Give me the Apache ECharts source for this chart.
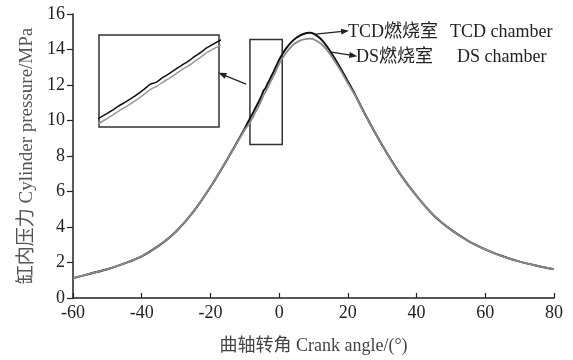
<!DOCTYPE html>
<html>
<head>
<meta charset="utf-8">
<script src="https://cdn.jsdelivr.net/npm/echarts@6/dist/echarts.min.js"></script>
<style>
  html, body { margin: 0; padding: 0; background: #fff; }
  #chart { width: 573px; height: 360px; }
</style>
</head>
<body>
<div id="chart"></div>
<script>
// crank angle (deg), denser where the inset zooms in
const angles = [-60, -55, -50, -45, -40, -35, -30, -25, -20, -15, -10,
  -8.5, -8, -7.5, -7, -6.5, -6, -5.5, -5, -4.5, -4, -3.5, -3, -2.5, -2, -1.5, -1, -0.5, 0,
  2, 4, 6, 8, 9, 10, 12, 14, 16, 18, 20, 22, 25,
  30, 35, 40, 45, 50, 55, 60, 65, 70, 75, 80];

// TCD chamber pressure (MPa)
const tcdPressure = [1.12, 1.37, 1.62, 1.95, 2.35, 2.95, 3.75, 4.85, 6.25, 7.85, 9.55,
  10.12, 10.3, 10.47, 10.67, 10.85, 11.03, 11.23, 11.45, 11.7, 11.8, 12.02, 12.2, 12.4, 12.6, 12.78, 13.0, 13.2, 13.42,
  14.05, 14.5, 14.78, 14.93, 14.95, 14.9, 14.62, 14.15, 13.55, 12.9, 12.2, 11.5, 10.35,
  8.6, 7.05, 5.75, 4.65, 3.85, 3.22, 2.74, 2.35, 2.05, 1.82, 1.62];

// DS chamber pressure (MPa)
const dsPressure = [1.12, 1.37, 1.62, 1.95, 2.35, 2.95, 3.75, 4.85, 6.25, 7.85, 9.48,
  9.88, 10.06, 10.24, 10.44, 10.61, 10.8, 11.0, 11.22, 11.45, 11.6, 11.8, 11.98, 12.18, 12.38, 12.56, 12.77, 12.98, 13.2,
  13.8, 14.25, 14.5, 14.6, 14.61, 14.58, 14.35, 13.95, 13.4, 12.78, 12.1, 11.45, 10.33,
  8.6, 7.05, 5.75, 4.65, 3.85, 3.22, 2.74, 2.35, 2.05, 1.82, 1.62];

const xTicks = [-60, -40, -20, 0, 20, 40, 60, 80];
const yTicks = [0, 2, 4, 6, 8, 10, 12, 14, 16];

// zoomed window marked on the main plot
const zoomBox = [[-8.5, 8.65], [0.9, 14.57]];

const serif = "'Liberation Serif', 'Noto Sans CJK SC', serif";

const tcdData = angles.map((a, i) => [a, tcdPressure[i]]);
const dsData = angles.map((a, i) => [a, dsPressure[i]]);

const chart = echarts.init(document.getElementById('chart'), null, { renderer: 'canvas' });

const arrowLine = (from, to) => ({
  type: 'line',
  silent: true,
  xAxisIndex: 0,
  yAxisIndex: 0,
  data: [],
  markLine: {
    silent: true,
    symbol: ['none', 'triangle'],
    symbolSize: [6, 8],
    lineStyle: { color: '#222', width: 1.2, type: 'solid' },
    label: { show: false },
    data: [[{ coord: from }, { coord: to }]]
  }
});

const option = {
  animation: false,
  backgroundColor: '#fff',
  grid: [
    { left: 73, right: 19, top: 14, bottom: 54 },
    { left: 99, top: 35, width: 120, height: 92, show: true, borderColor: '#333', borderWidth: 1.5, backgroundColor: '#fff', z: 5 }
  ],
  xAxis: [
    {
      type: 'value', gridIndex: 0, min: -60, max: 80, interval: 20,
      axisLine: { onZero: false, lineStyle: { color: '#222', width: 1.5 } },
      axisTick: { inside: true, length: 5, lineStyle: { color: '#222', width: 1.2 } },
      splitLine: { show: false },
      axisLabel: {
        color: '#222', fontFamily: serif, fontSize: 18, margin: 6,
        formatter: v => xTicks.includes(v) ? String(v) : ''
      },
      name: '曲轴转角 Crank angle/(°)',
      nameLocation: 'middle', nameGap: 39,
      nameTextStyle: { color: '#444', fontFamily: serif, fontSize: 18 }
    },
    { type: 'value', gridIndex: 1, min: -8.5, max: 0.9, show: false }
  ],
  yAxis: [
    {
      type: 'value', gridIndex: 0, min: 0, max: 16, interval: 2,
      axisLine: { show: true, onZero: false, lineStyle: { color: '#222', width: 1.5 } },
      axisTick: { show: true, inside: false, length: 6, lineStyle: { color: '#222', width: 1.2 } },
      splitLine: { show: false },
      axisLabel: {
        color: '#222', fontFamily: serif, fontSize: 18, margin: 8,
        formatter: v => yTicks.includes(v) ? String(v) : ''
      },
      name: '缸内压力 Cylinder pressure/MPa',
      nameLocation: 'middle', nameGap: 33,
      nameTextStyle: { color: '#555', fontFamily: serif, fontSize: 19 }
    },
    { type: 'value', gridIndex: 1, min: 9.71, max: 14.0, show: false }
  ],
  series: [
    {
      name: 'TCD chamber', type: 'line', xAxisIndex: 0, yAxisIndex: 0,
      data: tcdData, smooth: 0.3, showSymbol: false,
      lineStyle: { color: '#111', width: 2 },
      markArea: {
        silent: true,
        itemStyle: { color: 'rgba(0,0,0,0)', borderColor: '#333', borderWidth: 1.5 },
        data: [[{ coord: zoomBox[0] }, { coord: zoomBox[1] }]]
      }
    },
    {
      name: 'DS chamber', type: 'line', xAxisIndex: 0, yAxisIndex: 0,
      data: dsData, smooth: 0.3, showSymbol: false,
      lineStyle: { color: '#8a8a8a', width: 1.8 }
    },
    {
      name: 'DS inset', type: 'line', xAxisIndex: 1, yAxisIndex: 1,
      data: dsData, smooth: 0.3, showSymbol: false, clip: true, z: 6,
      lineStyle: { color: '#999', width: 1.5 }
    },
    {
      name: 'TCD inset', type: 'line', xAxisIndex: 1, yAxisIndex: 1,
      data: tcdData, smooth: 0.3, showSymbol: false, clip: true, z: 6,
      lineStyle: { color: '#111', width: 1.5 }
    },
    // annotation arrows
    arrowLine([9.9, 14.85], [19.2, 15.03]),
    arrowLine([15.3, 13.85], [21.6, 13.66]),
    arrowLine([-9.6, 12.05], [-16.6, 12.6])
  ],
  graphic: [
    { type: 'text', left: 348, top: 23, style: { text: 'TCD燃烧室', fill: '#222', font: "18px " + serif } },
    { type: 'text', left: 450, top: 23, style: { text: 'TCD chamber', fill: '#222', font: "18px " + serif } },
    { type: 'text', left: 356, top: 48, style: { text: 'DS燃烧室', fill: '#222', font: "18px " + serif } },
    { type: 'text', left: 457, top: 48, style: { text: 'DS chamber', fill: '#222', font: "18px " + serif } }
  ]
};

chart.setOption(option);
</script>
</body>
</html>
